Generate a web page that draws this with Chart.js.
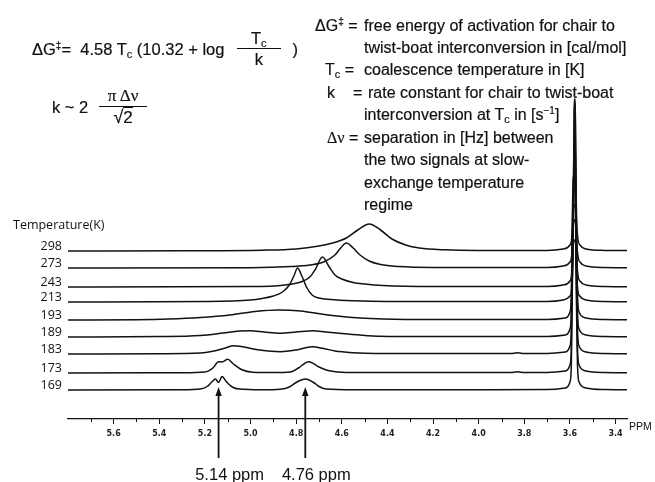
<!DOCTYPE html>
<html>
<head>
<meta charset="utf-8">
<script src="https://cdn.jsdelivr.net/npm/chart.js@4.4.1/dist/chart.umd.min.js"></script>
<style>
  html, body { margin: 0; padding: 0; background: #fff; }
  #wrap { position: relative; width: 655px; height: 482px; }
  #chart { position: absolute; left: 0; top: 0; }
  .txt { position: absolute; font: 16px "Liberation Sans", Arial, sans-serif; color: #111; white-space: nowrap; line-height: 22px; -webkit-text-stroke: 0.2px #111; }
  .row { display: flex; align-items: center; }
  sup { font-size: 10px; vertical-align: 6px; line-height: 0; }
  sub { font-size: 11px; vertical-align: -3px; line-height: 0; }
  .frac { display: inline-flex; flex-direction: column; align-items: center; }
  .frac .num { border-bottom: 1.5px solid #111; line-height: 20px; }
  .frac .den { line-height: 20px; }
  .serif { font-family: "Liberation Serif", "Times New Roman", serif; font-size: 17px; }
</style>
</head>
<body>
<div id="wrap">
  <canvas id="chart" width="655" height="482"></canvas>

  <div class="txt row" style="left:32px; top:28px; font-size:16.5px;">
    <span>ΔG<sup>‡</sup>= &nbsp;4.58 T<sub>c</sub> (10.32 + log&nbsp;</span>
    <span class="frac" style="margin-left:8px;"><span class="num" style="padding:0 14px;">T<sub>c</sub></span><span class="den">k</span></span>
    <span style="margin-left:12px;">)</span>
  </div>

  <div class="txt row" style="left:52px; top:86px; font-size:16.5px;">
    <span>k ~ 2&nbsp;</span>
    <span class="frac" style="margin-left:6px;"><span class="num serif" style="padding:0 9px;">π Δν</span><span class="den"><span style="font-size:18px;">√</span><span style="border-top:1.3px solid #111; line-height:17px; font-size:17px;">2</span></span></span>
  </div>

  <div class="txt" style="left:315px; top:15px;">ΔG<sup>‡</sup> =</div>
  <div class="txt" style="left:364px; top:15px;">free energy of activation for chair to</div>
  <div class="txt" style="left:364px; top:37px;">twist-boat interconversion in [cal/mol]</div>
  <div class="txt" style="left:325px; top:59px;">T<sub>c</sub> =</div>
  <div class="txt" style="left:364px; top:59px;">coalescence temperature in [K]</div>
  <div class="txt" style="left:327px; top:82px;">k</div>
  <div class="txt" style="left:353px; top:82px;">=</div>
  <div class="txt" style="left:368px; top:82px;">rate constant for chair to twist-boat</div>
  <div class="txt" style="left:364px; top:104px;">interconversion at T<sub>c</sub> in [s<sup>−1</sup>]</div>
  <div class="txt" style="left:327px; top:127px;"><span class="serif" style="font-size:16px;">Δν</span> =</div>
  <div class="txt" style="left:364px; top:127px;">separation in [Hz] between</div>
  <div class="txt" style="left:364px; top:149px;">the two signals at slow-</div>
  <div class="txt" style="left:364px; top:172px;">exchange temperature</div>
  <div class="txt" style="left:364px; top:194px;">regime</div>
</div>

<script>
// temperatures (K), top trace first
const temps = ['298', '273', '243', '213', '193', '189', '183', '173', '169'];
// baseline level of each stacked trace (px above the ppm axis)
const baselines = [168, 151, 132, 117, 99, 82, 65, 46, 29];

// [ppm, intensity above baseline]
const t298 = [[5.8,0],[5.3,0.3],[4.95,0.8],[4.8,2],[4.7,5],[4.64,8],[4.58,13],[4.53,21],[4.48,27],[4.43,21],[4.38,12],[4.32,6],[4.26,3],[4.15,1.2],[4.0,0.6],[3.7,0.6],[3.63,2],[3.6,6],[3.592,14],[3.586,45],[3.5815,138],[3.5805,152],[3.5775,152],[3.5765,138],[3.572,45],[3.566,14],[3.556,6],[3.53,2],[3.45,0.6],[3.35,0.4]];
const t273 = [[5.8,0],[5.0,0.3],[4.82,1.5],[4.74,3],[4.68,6],[4.63,13],[4.605,20],[4.58,25],[4.55,20],[4.52,13],[4.48,7],[4.43,3.5],[4.35,1.5],[4.2,0.6],[3.7,0.5],[3.63,2],[3.6,6],[3.592,14],[3.586,45],[3.5815,150],[3.5805,164],[3.5775,164],[3.5765,150],[3.572,45],[3.566,14],[3.556,6],[3.53,2],[3.45,0.5],[3.35,0.3]];
const t243 = [[5.8,0],[5.0,0.4],[4.85,2],[4.78,5],[4.74,10],[4.715,18],[4.685,30],[4.655,20],[4.63,12],[4.6,8],[4.55,4.5],[4.5,3],[4.42,1.5],[4.2,0.5],[3.7,0.5],[3.63,2],[3.6,6],[3.592,14],[3.586,45],[3.5815,135],[3.5805,147],[3.5775,147],[3.5765,135],[3.572,45],[3.566,14],[3.556,6],[3.53,2],[3.45,0.5],[3.35,0.3]];
const t213 = [[5.8,0],[5.2,0.5],[5.0,2],[4.95,3.5],[4.9,6],[4.86,10],[4.83,17],[4.81,26],[4.794,34],[4.775,26],[4.755,15],[4.73,7],[4.7,4],[4.65,2.5],[4.55,1.2],[4.4,0.5],[3.7,0.5],[3.63,2],[3.6,6],[3.592,14],[3.587,45],[3.5825,135],[3.5815,147],[3.5785,147],[3.5775,135],[3.573,45],[3.567,14],[3.557,6],[3.53,2],[3.45,0.5],[3.35,0.3]];
const t193 = [[5.8,0],[5.5,0.3],[5.36,1],[5.22,2.5],[5.09,5],[4.98,8.5],[4.88,10],[4.78,9],[4.69,6],[4.62,4],[4.52,2],[4.42,1],[4.2,0.4],[3.7,0.5],[3.62,2],[3.6,8],[3.594,25],[3.591,80],[3.586,140],[3.582,145],[3.575,140],[3.571,80],[3.567,25],[3.56,8],[3.53,2],[3.45,0.5],[3.35,0.3]];
const t189 = [[5.8,0],[5.4,0.4],[5.22,1.5],[5.12,4],[5.05,6],[5.0,6.3],[4.94,5],[4.87,3.8],[4.8,5],[4.725,6.3],[4.67,5],[4.6,3.5],[4.52,2],[4.43,0.8],[4.25,0.4],[3.7,0.5],[3.62,2],[3.6,8],[3.594,25],[3.591,80],[3.586,142],[3.582,147],[3.575,142],[3.571,80],[3.567,25],[3.56,8],[3.53,2],[3.45,0.5],[3.35,0.3]];
const t183 = [[5.8,0],[5.4,0.3],[5.22,1],[5.15,3.5],[5.11,6],[5.075,8.3],[5.03,7],[4.96,4],[4.87,2.3],[4.8,4],[4.73,7.3],[4.68,5.5],[4.63,3],[4.55,1.3],[4.45,0.5],[3.86,0.4],[3.83,1.3],[3.8,0.4],[3.7,0.5],[3.62,2],[3.6,8],[3.594,25],[3.591,80],[3.586,144],[3.582,149],[3.575,144],[3.571,80],[3.567,25],[3.56,8],[3.53,2],[3.45,0.5],[3.35,0.3]];
const t173 = [[5.8,0],[5.3,0.3],[5.2,1],[5.165,5],[5.14,11.3],[5.125,11],[5.1,13.7],[5.075,9],[5.04,3.5],[4.99,0.8],[4.9,0.5],[4.825,1],[4.79,5],[4.745,11.3],[4.7,6],[4.66,2.5],[4.6,0.8],[4.5,0.4],[3.86,0.4],[3.83,1.3],[3.8,0.4],[3.7,0.5],[3.62,2],[3.6,8],[3.594,25],[3.591,80],[3.586,148],[3.582,153],[3.575,148],[3.571,80],[3.567,25],[3.56,8],[3.53,2],[3.45,0.5],[3.35,0.3]];
const t169 = [[5.8,0],[5.3,0.2],[5.22,1],[5.19,3.5],[5.17,8],[5.154,11],[5.14,7.5],[5.125,13.5],[5.105,8],[5.08,3],[5.05,1],[4.95,0.3],[4.87,0.8],[4.83,3],[4.8,7.5],[4.76,11],[4.72,7],[4.7,3.5],[4.67,1],[4.55,0.3],[3.7,0.4],[3.62,2],[3.6,8],[3.594,25],[3.591,80],[3.586,145],[3.582,150],[3.575,145],[3.571,80],[3.567,25],[3.56,8],[3.53,2],[3.45,0.4],[3.35,0.2]];
const traces = [t298, t273, t243, t213, t193, t189, t183, t173, t169];

// axis ticks
const majorTicks = [5.6, 5.4, 5.2, 5.0, 4.8, 4.6, 4.4, 4.2, 4.0, 3.8, 3.6, 3.4];
const minorTicks = [5.7, 5.5, 5.3, 5.1, 4.9, 4.7, 4.5, 4.3, 4.1, 3.9, 3.7, 3.5];

// coalescence signals marked with arrows
const arrowPpm = [5.14, 4.76];
const arrowLabels = ['5.14 ppm', '4.76 ppm'];

const isMajor = v => majorTicks.some(m => Math.abs(m - v) < 1e-6);

const annot = {
  id: 'annot',
  afterDraw(chart) {
    const { ctx, scales: { x, y } } = chart;
    ctx.save();
    ctx.strokeStyle = '#111';
    ctx.fillStyle = '#111';

    // short minor ticks
    ctx.lineWidth = 1;
    minorTicks.forEach(v => {
      const px = Math.round(x.getPixelForValue(v)) + 0.5;
      ctx.beginPath();
      ctx.moveTo(px, x.top);
      ctx.lineTo(px, x.top + 3);
      ctx.stroke();
    });

    // temperature labels
    ctx.font = '500 12.5px "Open Sans", sans-serif';
    ctx.textBaseline = 'middle';
    ctx.textAlign = 'right';
    temps.forEach((t, i) => {
      ctx.fillText(t, x.left - 6, y.getPixelForValue(baselines[i]) - 5);
    });
    ctx.textAlign = 'left';
    ctx.fillText('Temperature(K)', 13, y.getPixelForValue(baselines[0]) - 26);

    // arrows
    const tip = y.getPixelForValue(baselines[baselines.length - 1] + 3);
    const bottom = x.top + 39;
    arrowPpm.forEach((p, i) => {
      const px = x.getPixelForValue(p);
      ctx.lineWidth = 1.8;
      ctx.beginPath();
      ctx.moveTo(px, bottom);
      ctx.lineTo(px, tip + 6);
      ctx.stroke();
      ctx.beginPath();
      ctx.moveTo(px, tip);
      ctx.lineTo(px - 3.2, tip + 9);
      ctx.lineTo(px + 3.2, tip + 9);
      ctx.closePath();
      ctx.fill();
      ctx.font = '16.5px "Liberation Sans", Arial, sans-serif';
      ctx.textAlign = 'center';
      ctx.fillText(arrowLabels[i], px + 11, bottom + 17);
    });

    // axis unit
    ctx.font = '10.5px "Liberation Sans", Arial, sans-serif';
    ctx.textAlign = 'left';
    ctx.fillText('PPM', x.right + 2, x.top + 8);
    ctx.restore();
  }
};

new Chart(document.getElementById('chart'), {
  type: 'line',
  data: {
    datasets: traces.map((t, i) => ({
      label: temps[i],
      data: t.map(([ppm, h]) => ({ x: ppm, y: baselines[i] + h })),
      borderColor: '#111',
      borderWidth: 1.5,
      borderJoinStyle: 'round',
      pointRadius: 0,
      fill: false,
      cubicInterpolationMode: 'monotone',
      clip: false
    }))
  },
  options: {
    responsive: false,
    animation: false,
    layout: { padding: { left: 68, right: 28, top: 90, bottom: 0 } },
    plugins: { legend: { display: false }, tooltip: { enabled: false } },
    scales: {
      x: {
        type: 'linear',
        reverse: true,
        min: 3.35,
        max: 5.8,
        afterBuildTicks: s => {
          s.ticks = [...majorTicks, ...minorTicks].sort((a, b) => b - a).map(v => ({ value: v }));
        },
        afterFit: s => { s.height = 63; },
        border: { display: true, color: '#111', width: 1.2 },
        grid: {
          drawOnChartArea: false,
          tickLength: 5,
          tickWidth: 1,
          tickColor: c => (c.tick && isMajor(c.tick.value)) ? '#111' : 'rgba(0,0,0,0)'
        },
        ticks: {
          autoSkip: false,
          maxRotation: 0,
          padding: 5,
          color: '#222',
          font: { family: 'DejaVu Sans', size: 8, weight: 'bold' },
          callback: v => isMajor(v) ? v.toFixed(1) : ''
        }
      },
      y: {
        display: false,
        min: 0,
        max: 329
      }
    }
  },
  plugins: [annot]
});
</script>
</body>
</html>
